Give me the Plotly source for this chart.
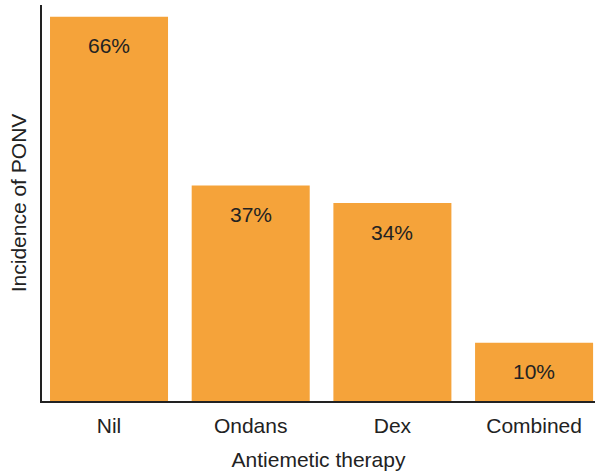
import plotly.graph_objects as go

categories = ["Nil", "Ondans", "Dex", "Combined"]
incidence = [66, 37, 34, 10]
labels = ["66%", "37%", "34%", "10%"]

FONT = "Liberation Sans, Arial, Helvetica, sans-serif"
BAR = "#F5A33A"
TXT = "#222222"
FS = 21

xpos = list(range(len(categories)))

fig = go.Figure()
fig.add_trace(go.Bar(
    x=xpos, y=incidence, width=0.833,
    marker=dict(color=BAR, line=dict(width=0)),
    hoverinfo="skip",
))

for xp, v, lab in zip(xpos, incidence, labels):
    fig.add_annotation(x=xp, y=v, text=lab, showarrow=False, yanchor="middle",
                       yshift=-29, font=dict(family=FONT, size=FS, color=TXT))

fig.update_layout(
    width=595, height=471,
    margin=dict(l=42, r=0, t=5, b=70),
    paper_bgcolor="white", plot_bgcolor="white",
    showlegend=False,
    font=dict(family=FONT, size=FS, color=TXT),
    xaxis=dict(
        range=[-0.473, 3.43], tickmode="array", tickvals=xpos, ticktext=categories,
        showline=True, linecolor="#222222", linewidth=1.5, showgrid=False, zeroline=False,
        ticks="outside", ticklen=5, tickcolor="rgba(0,0,0,0)",
        tickfont=dict(family=FONT, size=FS, color=TXT),
        title=dict(text="Antiemetic therapy", standoff=16, font=dict(family=FONT, size=FS, color=TXT)),
        automargin=False, fixedrange=True,
    ),
    yaxis=dict(
        range=[0, 68], showline=True, linecolor="#222222", linewidth=1.5,
        showgrid=False, zeroline=False, showticklabels=False, ticks="",
        title=dict(text="Incidence of PONV", standoff=8, font=dict(family=FONT, size=FS, color=TXT)),
        automargin=False, fixedrange=True,
    ),
)

fig.write_html("out.html")
